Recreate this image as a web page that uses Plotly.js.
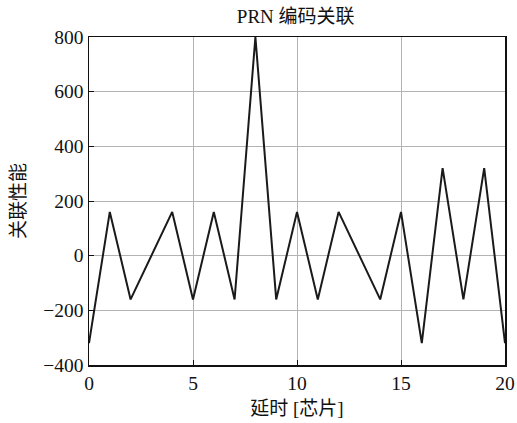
<!DOCTYPE html>
<html>
<head>
<meta charset="utf-8">
<script src="https://cdn.plot.ly/plotly-3.0.1.min.js"></script>
<style>html,body{margin:0;padding:0;background:#fff;}#chart{width:517px;height:423px;}</style>
</head>
<body>
<div id="chart"></div>
<script>
const delay = [0,1,2,3,4,5,6,7,8,9,10,11,12,13,14,15,16,17,18,19,20];
const correlation = [-320,160,-160,0,160,-160,160,-160,800,-160,160,-160,160,0,-160,160,-320,320,-160,320,-320];
const xTicks = [0,5,10,15,20];
const yTicks = [-400,-200,0,200,400,600,800];
const yTickText = ['\u2212400','\u2212200','0','200','400','600','800'];
const titleText = 'PRN 编码关联';
const xTitle = '延时 [芯片]';
const yTitle = '关联性能';

const fontFam = '"Liberation Serif", "Noto Sans CJK SC", serif';
Plotly.newPlot('chart', [{
  x: delay, y: correlation, type: 'scatter', mode: 'lines',
  line: {color: '#1a1a1a', width: 2}
}], {
  width: 517, height: 423,
  margin: {l: 89, r: 12, t: 37, b: 58},
  paper_bgcolor: '#fff', plot_bgcolor: '#fff',
  showlegend: false,
  font: {family: fontFam, color: '#111', size: 19},
  title: {text: titleText, x: 0.572, xanchor: 'center', y: 0.978, yanchor: 'top', font: {size: 19, family: fontFam}},
  xaxis: {
    range: [0, 20], tickvals: xTicks, ticktext: xTicks.map(String),
    showgrid: true, gridcolor: '#b3b3b3', gridwidth: 1,
    showline: true, linecolor: '#111', linewidth: 1.5, mirror: true,
    ticks: 'inside', ticklen: 5, tickcolor: '#111', zeroline: false,
    tickfont: {size: 19.5, family: fontFam},
    title: {text: xTitle, standoff: 9, font: {size: 19, family: fontFam}}
  },
  yaxis: {
    range: [-400, 800], tickvals: yTicks, ticktext: yTickText,
    showgrid: true, gridcolor: '#b3b3b3', gridwidth: 1,
    showline: true, linecolor: '#111', linewidth: 1.5, mirror: true,
    ticks: 'inside', ticklen: 5, tickcolor: '#111', zeroline: false,
    tickfont: {size: 19.5, family: fontFam},
    title: {text: yTitle, standoff: 12, font: {size: 19, family: fontFam}}
  }
}, {staticPlot: true, displayModeBar: false});
</script>
</body>
</html>
